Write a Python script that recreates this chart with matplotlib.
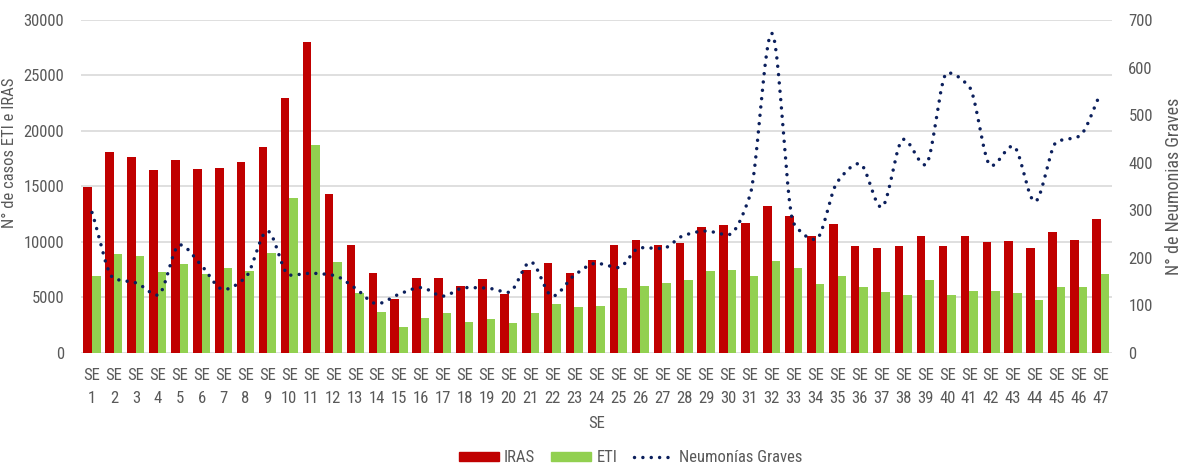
import numpy as np
import matplotlib
matplotlib.use("Agg")
import matplotlib.pyplot as plt
import matplotlib.font_manager as fm
from matplotlib.patches import Patch
from matplotlib.lines import Line2D

# Epidemiological weeks
weeks = [f"SE\n{i}" for i in range(1, 48)]

# Weekly cases of IRAS (acute respiratory infections)
iras = [14900, 18100, 17650, 16450, 17400, 16550, 16650, 17150, 18550, 22950,
        28000, 14300, 9700, 7200, 4800, 6700, 6700, 6050, 6600, 5250,
        7500, 8100, 7200, 8400, 9750, 10150, 9750, 9900, 11350, 11550,
        11650, 13200, 12300, 10550, 11600, 9600, 9450, 9600, 10500, 9650,
        10500, 9950, 10050, 9450, 10850, 10200, 12050]

# Weekly cases of ETI (influenza-like illness)
eti = [6950, 8900, 8750, 7300, 8000, 7100, 7650, 7400, 9000, 13950,
       18700, 8200, 5400, 3650, 2300, 3150, 3600, 2800, 3000, 2650,
       3600, 4400, 4150, 4200, 5800, 6050, 6250, 6550, 7350, 7500,
       6900, 8300, 7650, 6200, 6950, 5900, 5500, 5200, 6550, 5200,
       5550, 5550, 5350, 4750, 5950, 5950, 7100]

# Weekly severe pneumonia cases (right axis)
neumonias = [295, 156, 147, 121, 227, 183, 133, 158, 256, 163,
             167, 163, 136, 103, 123, 137, 119, 137, 136, 127,
             191, 119, 163, 188, 179, 221, 219, 247, 256, 248,
             330, 672, 272, 238, 360, 398, 306, 449, 395, 589,
             560, 393, 435, 318, 444, 455, 546]

C_IRAS = "#C00000"
C_ETI = "#92D050"
C_LINE = "#0B1F5C"
C_TEXT = "#595959"
C_GRID = "#D9D9D9"

# pick a narrow sans-serif face for all text
installed = {f.name for f in fm.fontManager.ttflist}
narrow = next((n for n in ["Arial Narrow", "Liberation Sans Narrow", "Roboto Condensed",
                           "Archivo Narrow", "PT Sans Narrow", "Sofia Sans Condensed",
                           "Encode Sans Condensed"] if n in installed), "DejaVu Sans")
plt.rcParams["font.family"] = [narrow, "DejaVu Sans"]

FS = 12


def smooth_curve(xs, ys, n=30):
    """Shape-preserving cubic (PCHIP) curve through every point."""
    xs = np.asarray(xs, float)
    ys = np.asarray(ys, float)
    h = np.diff(xs)
    d = np.diff(ys) / h
    m = np.zeros_like(ys)
    m[0], m[-1] = d[0], d[-1]
    for k in range(1, len(ys) - 1):
        if d[k - 1] * d[k] > 0:
            w1 = 2 * h[k] + h[k - 1]
            w2 = h[k] + 2 * h[k - 1]
            m[k] = (w1 + w2) / (w1 / d[k - 1] + w2 / d[k])
    ox, oy = [], []
    t = np.linspace(0, 1, n, endpoint=False)
    for k in range(len(xs) - 1):
        h00 = 2 * t**3 - 3 * t**2 + 1
        h10 = t**3 - 2 * t**2 + t
        h01 = -2 * t**3 + 3 * t**2
        h11 = t**3 - t**2
        ox.extend(xs[k] + t * h[k])
        oy.extend(h00 * ys[k] + h10 * h[k] * m[k] + h01 * ys[k + 1] + h11 * h[k] * m[k + 1])
    ox.append(xs[-1]); oy.append(ys[-1])
    return np.array(ox), np.array(oy)


fig = plt.figure(figsize=(11.83, 4.68), dpi=100)
ax = fig.add_axes([0.0685, 0.2464, 0.8712, 0.7109])
ax2 = ax.twinx()

x = np.arange(1, len(weeks) + 1)
w = 0.39
ax.bar(x - w / 2, iras, width=w, color=C_IRAS, zorder=2)
ax.bar(x + w / 2, eti, width=w, color=C_ETI, zorder=2)

ax.set_xlim(0.5, len(weeks) + 0.5)
ax.set_ylim(0, 30000)
ax.set_yticks(np.arange(0, 30001, 5000))
ax.set_xticks(x)
ax.set_xticklabels(weeks, linespacing=1.7)
ax.yaxis.grid(True, color=C_GRID, linewidth=1.2, zorder=0)
ax.set_axisbelow(True)
for s in ax.spines.values():
    s.set_visible(False)
for s in ax2.spines.values():
    s.set_visible(False)
ax.tick_params(axis="both", length=0, colors=C_TEXT, labelsize=FS)
ax.tick_params(axis="x", pad=11)
ax.tick_params(axis="y", pad=12)
ax.set_ylabel("N° de casos ETI e IRAS", color=C_TEXT, fontsize=FS)
ax.yaxis.set_label_coords(-0.062, 0.60)
ax.set_xlabel("SE", color=C_TEXT, fontsize=FS, labelpad=7)

LW = 2.5
DOT = (0, (0.01, 2.4))
sx, sy = smooth_curve(x, neumonias)
ax2.plot(sx, sy, color=C_LINE, linewidth=LW, linestyle=DOT,
         dash_capstyle="round", zorder=3)
ax2.set_ylim(0, 700)
ax2.set_yticks(np.arange(0, 701, 100))
ax2.tick_params(axis="y", length=0, colors=C_TEXT, labelsize=FS, pad=12)
ax2.set_ylabel("N° de Neumonias Graves", color=C_TEXT, fontsize=FS + 1)
ax2.yaxis.set_label_coords(1.052, 0.50)

handles = [Patch(color=C_IRAS, label="IRAS"),
           Patch(color=C_ETI, label="ETI"),
           Line2D([], [], color=C_LINE, linewidth=LW, linestyle=DOT,
                  dash_capstyle="round", label="Neumonías Graves")]
leg = fig.legend(handles=handles, loc="center", bbox_to_anchor=(0.533, 0.022),
                 ncol=3, frameon=False, fontsize=FS, handlelength=2.4,
                 handleheight=0.5, columnspacing=1.0, handletextpad=0.3,
                 borderpad=0)
for t in leg.get_texts():
    t.set_color(C_TEXT)

fig.savefig("out.png", dpi=100)
